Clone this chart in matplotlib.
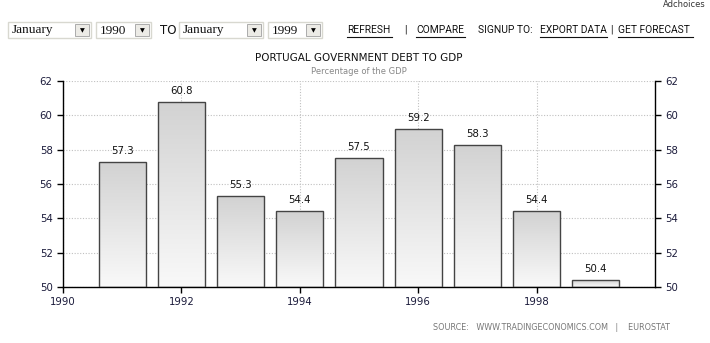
import matplotlib
matplotlib.use("Agg")
import matplotlib.pyplot as plt
import numpy as np
from matplotlib.patches import Rectangle
from matplotlib.colors import LinearSegmentedColormap

years = [1991, 1992, 1993, 1994, 1995, 1996, 1997, 1998, 1999]
debt = [57.3, 60.8, 55.3, 54.4, 57.5, 59.2, 58.3, 54.4, 50.4]
xticks = [1990, 1992, 1994, 1996, 1998]
yticks = [50, 52, 54, 56, 58, 60, 62]

W, H = 710, 343
fig = plt.figure(figsize=(W / 100, H / 100), dpi=100)
fig.patch.set_facecolor("white")

# overlay for page UI in pixel coordinates
ov = fig.add_axes([0, 0, 1, 1])
ov.set_xlim(0, W)
ov.set_ylim(H, 0)
ov.axis("off")

def dropdown(x0, x1, label):
    ov.add_patch(Rectangle((x0, 22), x1 - x0, 16, facecolor="white", edgecolor="#d8d8d0", lw=1))
    ov.add_patch(Rectangle((x1 - 16, 24), 14, 12, facecolor="#ecebe6", edgecolor="#a0a0a0", lw=0.6))
    ov.text(x1 - 9, 30.5, "▼", fontsize=4.5, ha="center", va="center", color="black")
    ov.text(x0 + 4, 30.5, label, fontsize=9.5, family="Liberation Serif", ha="left", va="center", color="#111")

dropdown(8, 91, "January")
dropdown(96, 151, "1990")
ov.text(160, 30, "TO", fontsize=8.5, ha="left", va="center", color="#111")
dropdown(179, 263, "January")
dropdown(268, 322, "1999")

links = [(347, "REFRESH"), (404, "|"), (416, "COMPARE"),
         (478, "SIGNUP TO:"), (540, "EXPORT DATA"), (610, "|"),
         (618, "GET FORECAST")]
for x, t in links:
    ov.text(x, 30, t, fontsize=7.4, ha="left", va="center", color="#111",
            family="Roboto")
link_under = [(347, 392), (416, 465), (540, 607), (618, 693)]
for a, b in link_under:
    ov.plot([a, b], [36.5, 36.5], color="#111", lw=0.8)

ov.text(706, 0, "Adchoices", fontsize=6, ha="right", va="top", color="#333")

ov.text(359, 58, "PORTUGAL GOVERNMENT DEBT TO GDP", fontsize=7.5, ha="center", va="center", color="#111")
ov.text(359, 72, "Percentage of the GDP", fontsize=6, ha="center", va="center", color="#888")
ov.text(670, 327, "SOURCE:   WWW.TRADINGECONOMICS.COM   |    EUROSTAT", fontsize=5.8,
        ha="right", va="center", color="#777")

# main chart
L, R, T, B = 63, 655, 81, 287
ax = fig.add_axes([L / W, 1 - B / H, (R - L) / W, (B - T) / H])
ax.set_facecolor("none")
ax.set_xlim(1990, 2000)
ax.set_ylim(50, 62)

cmap = LinearSegmentedColormap.from_list("g", ["#f9f9f9", "#d2d2d2"])
grad = np.linspace(0, 1, 256).reshape(-1, 1)
bars = ax.bar(years, [v - 50 for v in debt], bottom=50, width=0.8,
              facecolor="none", edgecolor="#444444", lw=1, zorder=3)
for b, y, v in zip(bars, years, debt):
    im = ax.imshow(grad, cmap=cmap, origin="lower", aspect="auto",
                   extent=[y - 0.4, y + 0.4, 50, v], zorder=2)
    im.set_clip_path(b)
    ax.text(y, v + 0.35, f"{v:.1f}", ha="center", va="bottom", fontsize=7.3, color="#111", zorder=4)
ax.set_xlim(1990, 2000)
ax.set_ylim(50, 62)

ax.set_xticks(xticks)
ax.set_yticks(yticks)
ax.grid(True, color="#c0c0c0", ls=(0, (1, 1.5)), lw=0.8, zorder=1)
for s in ["left", "right", "bottom"]:
    ax.spines[s].set_color("black")
    ax.spines[s].set_linewidth(1)
ax.spines["top"].set_visible(False)
ax.tick_params(axis="both", direction="out", length=4, width=1, labelsize=7.3,
               colors="black")
ax.tick_params(axis="y", right=True, labelright=True)
for lab in ax.get_xticklabels() + ax.get_yticklabels():
    lab.set_color("#1a1a3a")

fig.savefig("out.png", dpi=100, facecolor="white")
